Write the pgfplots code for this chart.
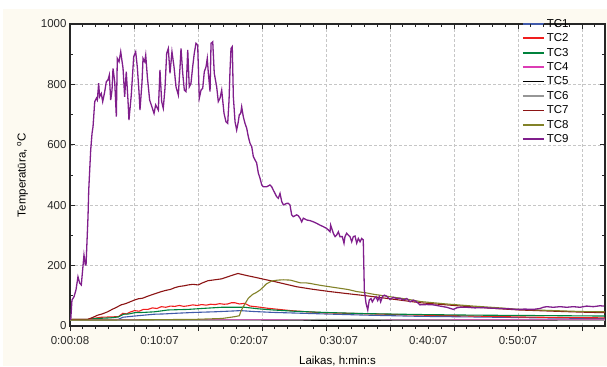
\documentclass[border=0pt]{standalone}
\usepackage{pgfplots}
\pgfplotsset{compat=1.18}
\usepackage{fontspec}
\setmainfont{Liberation Sans}
\definecolor{bgc}{RGB}{253,250,241}
\definecolor{cTC1}{RGB}{64,90,170}
\definecolor{cTC2}{RGB}{240,30,30}
\definecolor{cTC3}{RGB}{0,130,60}
\definecolor{cTC4}{RGB}{220,60,180}
\definecolor{cTC5}{RGB}{0,0,0}
\definecolor{cTC6}{RGB}{150,150,150}
\definecolor{cTC7}{RGB}{140,20,20}
\definecolor{cTC8}{RGB}{130,130,40}
\definecolor{cTC9}{RGB}{128,30,140}
\definecolor{txt}{RGB}{40,40,40}
\begin{document}
\begin{tikzpicture}[x=1bp,y=1bp]
\path[use as bounding box] (0,0) rectangle (607,366);
\fill[white] (0,0) rectangle (607,366);
\fill[bgc] (3,0) rectangle (607,357);
\begin{axis}[
  at={(70bp,40bp)}, anchor=south west,
  width=535bp, height=302bp, scale only axis,
  xmin=0, xmax=59.71, ymin=0, ymax=1000,
  axis background/.style={fill=white},
  font=\fontsize{11.5bp}{13bp}\selectfont,
  tick label style={text=txt},
  /pgf/number format/assume math mode=true,
  /pgf/number format/1000 sep={},
  xtick={0,7.142857,14.285714,21.428571,28.571429,35.714286,42.857143,50,57.142857},
  xticklabels={},
  minor xtick={1.428571,2.857143,4.285714,5.714286,8.571429,10,11.428571,12.857143,15.714286,17.142857,18.571429,20,22.857143,24.285714,25.714286,27.142857,30,31.428571,32.857143,34.285714,37.142857,38.571429,40,41.428571,44.285714,45.714286,47.142857,48.571429,51.428571,52.857143,54.285714,55.714286,58.571429},
  extra x ticks={0,10,20,30,40,50},
  extra x tick labels={0:00:08,0:10:07,0:20:07,0:30:07,0:40:07,0:50:07},
  extra x tick style={major tick length=0pt, grid=none},
  xtick pos=bottom,
  x tick style={/pgfplots/tick align=outside},
  ytick={0,200,...,1000}, minor ytick={100,300,500,700,900},
  ytick pos=both, y tick style={/pgfplots/tick align=inside},
  major tick length=5bp, minor tick length=3bp,
  tick style={black!85, line width=1bp},
  grid=major,
  major grid style={gray!45, densely dashed, line width=0.6bp},
  axis line style={black!85, line width=1.6bp},
  xticklabel style={yshift=-7bp},
  xlabel={Laikas, h:min:s},
  ylabel={Temperatūra, \textsuperscript{o}C},
  xlabel style={yshift=-5bp},
  ylabel style={yshift=6bp},
  legend style={at={(0.839,1.03)}, anchor=north west, draw=none, fill=none,
    font=\fontsize{11.5bp}{12bp}\selectfont, row sep=0.9bp,
    nodes={inner sep=2bp}},
  legend cell align=left,
  legend image code/.code={\draw[#1, line width=1.8bp] (0bp,0bp) -- (21bp,0bp);},
  every axis plot/.append style={line width=1.1bp},
]
\addplot[cTC1] coordinates {(0,21)(5.4,22)(5.9,29)(7.2,33)(8.3,36)(9.4,39)(10.5,40)(11.7,42)(13.9,45)(16.1,47)(18.4,50)(19.0,51)(20.5,48)(22.7,45)(25,43)(28.3,40)(33,36)(39.1,32)(45,30)(50,28)(55,26)(59.7,25)};
\addlegendentry{TC1}
\addplot[cTC2] coordinates {(0,22)(2.0,22)(2.8,26)(3.5,29)(4.5,30)(5.4,31)(5.9,42)(6.3,40)(6.7,46)(7.2,51)(7.7,49)(8.2,55)(8.7,55)(9.2,60)(9.7,58)(10.2,64)(10.7,62)(11.2,66)(11.7,65)(12.2,68)(12.7,65)(13.2,67)(13.7,70)(14.2,68)(14.7,71)(15.2,69)(15.7,72)(16.2,71)(16.7,74)(17.2,72)(17.6,73)(18.0,77)(18.4,77)(18.9,73)(19.5,75)(20.1,66)(21,63)(22.0,59)(23.3,55)(24.6,51)(26.5,47)(28.3,44)(31,42)(33.9,40)(39.1,36)(45,33)(50,30)(55,28)(59.7,27)};
\addlegendentry{TC2}
\addplot[cTC3] coordinates {(0,22)(2,22)(3,25)(4.5,27)(5.4,30)(6.0,39)(6.6,40)(7.2,44)(8.2,45)(9.4,47)(10.2,50)(10.9,53)(12,54)(13.2,55)(14.7,58)(15.8,60)(16.9,62)(18,62)(19.5,62)(21,57)(22.7,53)(25,49)(28.3,45)(33,41)(39.1,38)(45,36)(50,35)(55,34)(59.7,33)};
\addlegendentry{TC3}
\addplot[cTC4] coordinates {(0,20)(20,20)(40,20)(59.7,20)};
\addlegendentry{TC4}
\addplot[cTC5] coordinates {(0,19)(20,19)(40,19)(59.7,19)};
\addlegendentry{TC5}
\addplot[cTC6] coordinates {(0,19)(20,19)(26,20)(28,22)(33,22)(36,20)(59.7,19)};
\addlegendentry{TC6}
\addplot[cTC7] coordinates {(0,22)(1,22)(2,22)(2.5,28)(3.1,36)(3.6,40)(4.2,47)(4.7,55)(5.2,62)(5.7,70)(6.2,74)(6.7,80)(7.2,86)(7.6,90)(8.1,92)(8.7,99)(9.2,104)(9.7,109)(10.2,114)(10.7,118)(11.2,121)(11.7,127)(12.2,131)(12.7,133)(13.2,136)(13.7,138)(14.3,136)(14.8,143)(15.4,150)(15.9,152)(16.4,154)(16.9,156)(17.4,161)(18.0,167)(18.75,174)(19.3,170)(19.9,166)(20.7,161)(21.6,155)(23,146)(24,139)(25.3,130)(27,122)(29.0,114)(31,107)(33.1,100)(36,89)(39.1,77)(42,70)(45,63)(48,57)(50.2,53)(54,49)(57,46)(59.7,44)};
\addlegendentry{TC7}
\addplot[cTC8] coordinates {(0,20)(5,20)(10,21)(14,22)(17.0,25)(18.4,31)(18.9,34)(19.05,47)(19.3,62)(19.9,92)(20.4,105)(20.8,111)(21.2,119)(21.6,130)(21.9,139)(22.5,149)(23.2,152)(23.8,153)(24.6,152)(25.2,147)(25.7,143)(26.3,143)(26.8,141)(27.5,137)(28.3,133)(29.2,129)(30.1,125)(31,121)(32.0,114)(33,110)(33.9,105)(35.7,97)(37.6,89)(39.1,81)(42,73)(45,66)(48,60)(50.2,55)(54,51)(57,48)(59.7,47)};
\addlegendentry{TC8}
\addplot[cTC9, line width=1.3bp] coordinates {
(0.08,20)(0.22,86)(0.45,97)(0.67,120)(0.89,163)(1.08,142)(1.26,136)(1.56,235)(1.71,202)(1.79,202)(2.01,362)(2.09,450)(2.31,583)(2.46,638)(2.57,660)(2.76,743)(2.94,754)(3.05,748)(3.20,804)(3.30,759)(3.49,770)(3.65,743)(3.87,775)(4.05,809)(4.24,815)(4.39,831)(4.54,748)(4.69,781)(4.80,853)(4.99,809)(5.17,693)(5.28,886)(5.47,875)(5.66,908)(5.92,853)(6.10,759)(6.28,842)(6.47,748)(6.58,682)(6.84,765)(7.11,892)(7.33,908)(7.51,858)(7.70,776)(7.81,715)(8.04,809)(8.15,886)(8.34,875)(8.45,897)(8.63,826)(8.89,748)(9.07,732)(9.38,704)(9.56,732)(9.86,715)(10.04,848)(10.23,743)(10.41,721)(10.60,787)(10.79,903)(10.97,919)(11.16,837)(11.38,908)(11.61,858)(11.83,792)(12.09,765)(12.28,858)(12.39,919)(12.58,837)(12.76,781)(12.95,776)(13.14,914)(13.31,792)(13.50,803)(13.69,858)(13.87,903)(14.06,936)(14.25,930)(14.43,754)(14.62,781)(14.81,787)(14.99,842)(15.18,858)(15.32,886)(15.44,837)(15.63,776)(15.74,936)(15.93,941)(16.10,837)(16.37,792)(16.55,743)(16.74,754)(16.93,781)(17.04,748)(17.19,704)(17.41,676)(17.60,671)(17.75,748)(17.86,848)(17.97,919)(18.11,925)(18.23,759)(18.42,676)(18.60,649)(18.78,676)(18.89,699)(19.05,704)(19.16,726)(19.34,693)(19.53,671)(19.72,655)(19.90,627)(20.09,605)(20.28,594)(20.46,561)(20.65,550)(20.83,540)(21.02,506)(21.21,489)(21.40,467)(21.57,461)(21.95,461)(22.32,467)(22.51,461)(22.69,450)(23.07,428)(23.25,423)(23.44,439)(23.63,412)(23.81,401)(24.19,406)(24.37,406)(24.55,401)(24.74,368)(24.92,362)(25.30,368)(25.48,365)(25.67,357)(25.86,345)(26.04,357)(26.42,351)(26.79,349)(27.16,345)(27.53,340)(27.90,334)(28.27,329)(28.65,323)(28.83,318)(29.02,312)(29.09,334)(29.39,307)(29.58,296)(29.76,301)(29.95,312)(30.13,296)(30.39,296)(30.58,274)(30.69,296)(30.88,307)(31.06,301)(31.25,296)(31.44,279)(31.62,296)(31.81,298)(32.00,274)(32.18,290)(32.37,279)(32.56,290)(32.73,285)(32.85,119)(33.04,75)(33.23,53)(33.40,86)(33.59,91)(33.74,80)(33.96,91)(34.15,97)(34.34,84)(34.52,97)(34.67,80)(34.90,99)(35.08,102)(35.34,99)(35.71,88)(36.08,95)(36.46,91)(36.83,92)(37.20,86)(37.58,91)(37.95,80)(38.32,86)(38.69,80)(39.06,70)(39.81,71)(40.55,70)(41.29,66)(42.04,62)(42.78,55)(43.15,60)(43.53,62)(44.27,62)(45.20,60)(46.13,61)(47.06,59)(47.99,58)(48.92,57)(49.85,55)(50.78,56)(51.71,55)(52.46,58)(52.82,62)(53.20,64)(53.94,62)(54.69,64)(55.43,62)(56.17,64)(56.92,62)(57.67,66)(58.40,64)(59.15,67)(59.60,66)};
\addlegendentry{TC9}
\end{axis}
\begin{axis}[
  at={(70bp,40bp)}, anchor=south west,
  width=535bp, height=302bp, scale only axis,
  xmin=0, xmax=59.71, ymin=0, ymax=1000,
  axis x line*=top, axis y line=none,
  xtick={0,7.142857,14.285714,21.428571,28.571429,35.714286,42.857143,50,57.142857},
  xticklabels={},
  minor xtick={1.428571,2.857143,4.285714,5.714286,8.571429,10,11.428571,12.857143,15.714286,17.142857,18.571429,20,22.857143,24.285714,25.714286,27.142857,30,31.428571,32.857143,34.285714,37.142857,38.571429,40,41.428571,44.285714,45.714286,47.142857,48.571429,51.428571,52.857143,54.285714,55.714286,58.571429},
  tick align=inside, major tick length=5bp, minor tick length=3bp,
  tick style={black!85, line width=1bp},
  axis line style={draw=none},
]
\addplot[draw=none] coordinates {(0,0)};
\end{axis}
\end{tikzpicture}
\end{document}
